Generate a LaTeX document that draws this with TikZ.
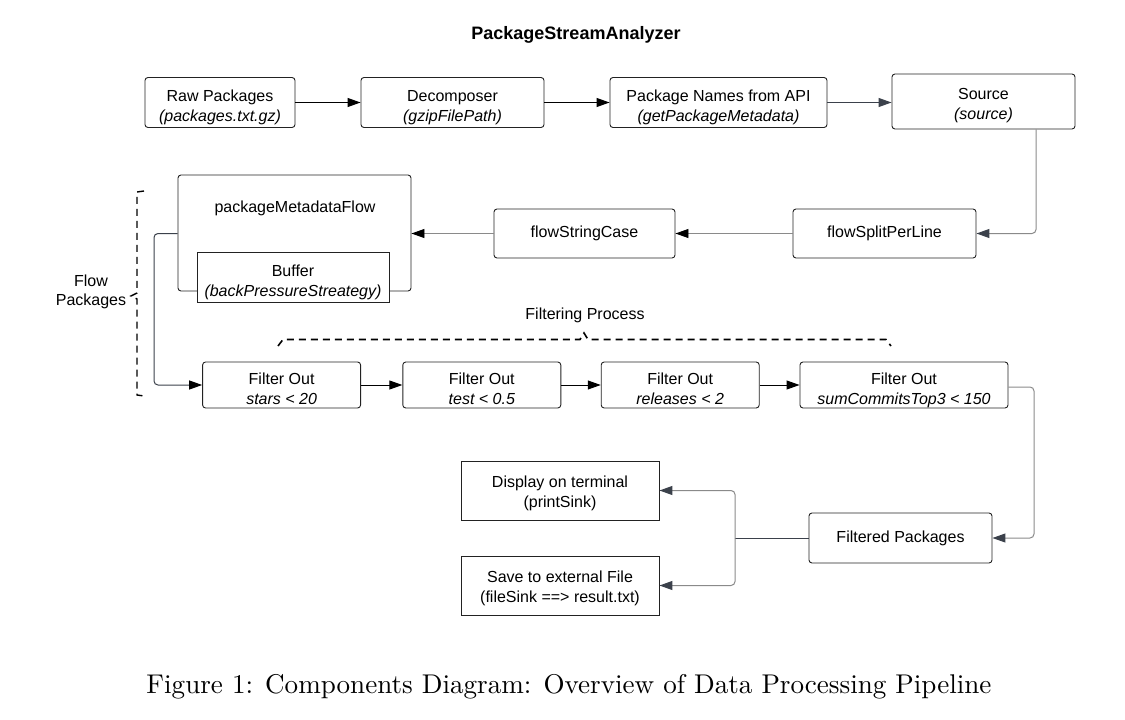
\documentclass[tikz,border=0pt]{standalone}
\usepackage{fontspec}
\setsansfont{Liberation Sans}
\newfontfamily\capfont{lmroman10-regular.otf}
\usetikzlibrary{arrows.meta}
\definecolor{boxc}{HTML}{222222}
\definecolor{linec}{HTML}{8A8A8A}
\definecolor{darkc}{HTML}{3B414B}
\tikzset{
  box/.style={draw=boxc, line width=0.9pt, rounded corners=3pt, align=center,
    font=\sffamily\fontsize{16}{20}\selectfont, inner sep=0pt},
  sqbox/.style={box, rounded corners=0pt},
  two/.style={text height=#1, text depth=1pt},
  two/.default=39pt,
  blackarr/.style={draw=black, line width=1pt, -{Triangle[length=13pt,width=9pt]}},
  grayblk/.style={draw=linec, line width=0.9pt, -{Triangle[length=13pt,width=9pt,color=black]}},
  graydark/.style={draw=linec, line width=1pt, rounded corners=4pt, -{Triangle[length=13pt,width=9pt,color=darkc]}},
  darkline/.style={draw=darkc, line width=1pt, rounded corners=4pt},
  bracket/.style={draw=black, line width=1.6pt, dash pattern=on 7pt off 5pt},
  lbl/.style={font=\sffamily\fontsize{16}{20}\selectfont, align=center, inner sep=0pt}
}
\begin{document}
\begin{tikzpicture}[x=1pt,y=-1pt]
\useasboundingbox (0,0) rectangle (1125,720);
% title
\node[font=\sffamily\bfseries\fontsize{18}{22}\selectfont, inner sep=0pt] (title) at (576,35) {PackageStreamAnalyzer};
% row 1
\node[box, two, minimum width=150pt, minimum height=50pt] (raw) at (220,102.5) {Raw Packages\\\itshape(packages.txt.gz)};
\node[box, two, minimum width=183pt, minimum height=50pt] (dec) at (452.5,102.5) {Decomposer\\\itshape(gzipFilePath)};
\node[box, two, minimum width=217pt, minimum height=50pt] (api) at (718.5,102.5) {Package Names from API\\\itshape(getPackageMetadata)};
\node[box, two=37pt, minimum width=183pt, minimum height=55pt] (src) at (983.5,101.5) {Source\\\itshape(source)};
% row 2
\node[box, minimum width=233pt, minimum height=116pt] (pmf) at (294.5,233) {};
\node[lbl] (pmft) at (295,208) {packageMetadataFlow};
\node[sqbox, two=38pt, fill=white, minimum width=192pt, minimum height=50pt] (buf) at (293,277.5) {Buffer\\\itshape(backPressureStreategy)};
\node[box, minimum width=181pt, minimum height=49pt] (fsc) at (584.5,233.5) {flowStringCase};
\node[box, minimum width=183pt, minimum height=49pt] (fsl) at (884.5,233.5) {flowSplitPerLine};
% row 3
\node[box, two, minimum width=158pt, minimum height=46pt] (f1) at (281.6,385) {Filter Out\\\itshape stars < 20};
\node[box, two, minimum width=158pt, minimum height=46pt] (f2) at (481.8,385) {Filter Out\\\itshape test < 0.5};
\node[box, two, minimum width=158pt, minimum height=46pt] (f3) at (680.2,385) {Filter Out\\\itshape releases < 2};
\node[box, two, minimum width=208pt, minimum height=46pt] (f4) at (904,385) {Filter Out\\\itshape sumCommitsTop3 < 150};
% row 4
\node[box, minimum width=183pt, minimum height=50pt] (fp) at (900.5,538) {Filtered Packages};
\node[sqbox, two=34.5pt, minimum width=198pt, minimum height=59pt] (disp) at (560,490.5) {Display on terminal\\(printSink)};
\node[sqbox, two=34.5pt, minimum width=198pt, minimum height=59pt] (save) at (560,585.5) {Save to external File\\(fileSink ==> result.txt)};
% labels
\node[lbl] (fproc) at (585,315) {Filtering Process};
\node[lbl, font=\sffamily\fontsize{16}{19}\selectfont] (fpk) at (91,292) {Flow\\Packages};
% caption
\node[font=\capfont\fontsize{27.1}{33}\selectfont, inner sep=0pt] (cap) at (569,687) {Figure 1: Components Diagram: Overview of Data Processing Pipeline};
% connectors row 1
\draw[blackarr] (raw.east) -- (dec.west);
\draw[blackarr] (dec.east) -- (api.west);
\draw[draw=darkc, line width=1pt, -{Triangle[length=13pt,width=9pt,color=darkc]}] (api.east) -- (src.west |- api.east);
\coordinate (srcdown) at (1036,0);
\draw[graydark] (src.south -| srcdown) |- (fsl.east);
% row 2
\draw[grayblk] (fsl.west) -- (fsc.east);
\draw[grayblk] (fsc.west) -- (pmf.east |- fsc.west);
\coordinate (pmfleft) at (154,0);
\draw[darkline, -{Triangle[length=13pt,width=9pt,color=black]}] (pmf.west |- fsc.west) -| (pmfleft |- f1.west) -- (f1.west);
% row 3
\draw[blackarr] (f1.east) -- (f2.west);
\draw[blackarr] (f2.east) -- (f3.west);
\draw[blackarr] (f3.east) -- (f4.west);
\coordinate (f4right) at (1034,0);
\draw[graydark] (f4.east |- 0,387) -| (f4right |- fp.east) -- (fp.east);
% sinks
\coordinate (br) at (735,538);
\draw[darkline] (fp.west) -- (br);
\draw[graydark] (br) |- (disp.east);
\draw[graydark] (br) |- (save.east);
% dashed brackets
\coordinate (fb1) at (144,191);
\coordinate (fb2) at (144,396);
\draw[bracket, line width=1.4pt] (fb1) -- (137,192) -- (137,293) -- (131,296) -- (137,299) -- (137,395) -- (fb2);
\coordinate (pb1) at (278,346);
\coordinate (pb2) at (891,346);
\draw[bracket] (pb1) -- (283,339.5) -- (580,339.5) -- (584,333) -- (588,339.5) -- (886,339.5) -- (pb2);
\end{tikzpicture}
\end{document}
